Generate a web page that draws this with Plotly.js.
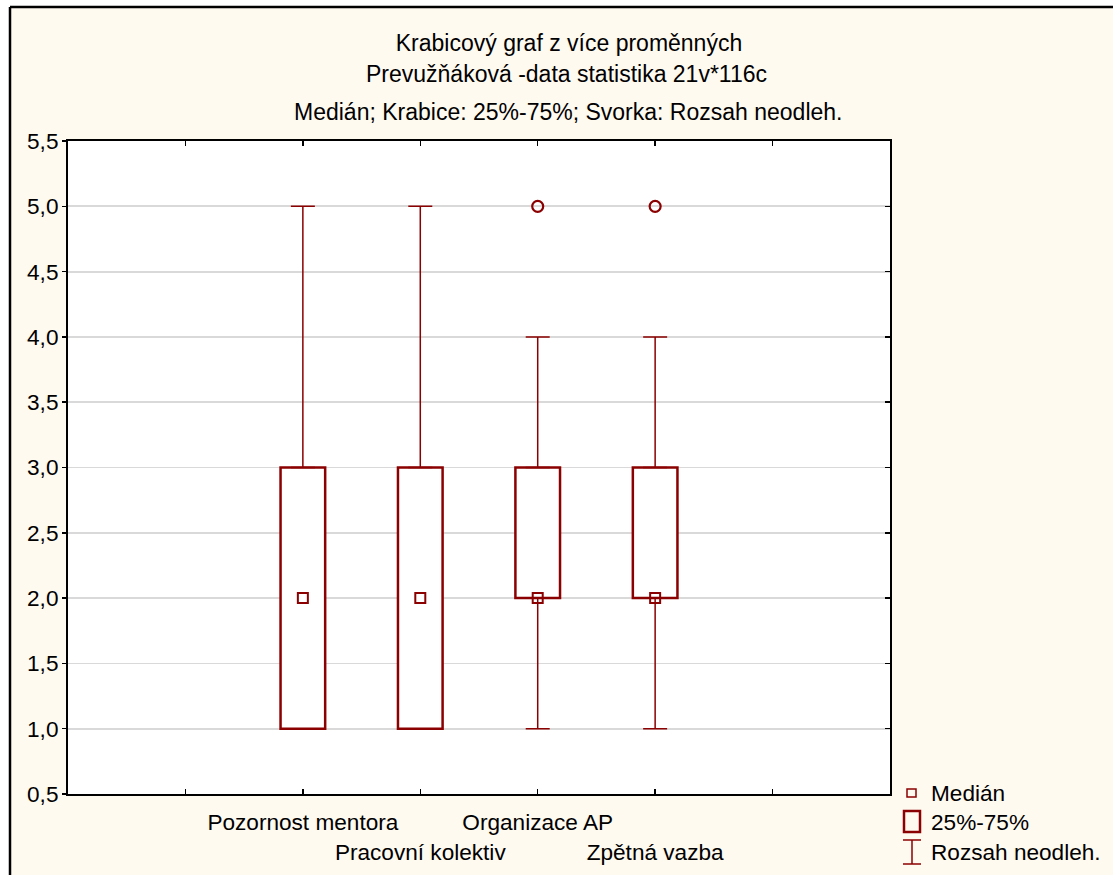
<!DOCTYPE html>
<html>
<head>
<meta charset="utf-8">
<script src="https://cdn.plot.ly/plotly-3.0.1.min.js"></script>
<style>html,body{margin:0;padding:0;background:#fff;}#chart{width:1113px;height:875px;}</style>
</head>
<body>
<div id="chart"></div>
<script>
// ---- data ----
const categories = ["Pozornost mentora", "Pracovní kolektiv", "Organizace AP", "Zpětná vazba"];
const positions = [1, 2, 3, 4];
const minVals = [1, 1, 1, 1];
const q1Vals = [1, 1, 2, 2];
const medianVals = [2, 2, 2, 2];
const q3Vals = [3, 3, 3, 3];
const maxVals = [5, 5, 4, 4];
const outlierPositions = [3, 4];
const outlierVals = [5, 5];
const tickPositions = [0, 1, 2, 3, 4, 5];
const titleLines = [
  "Krabicový graf z více proměnných",
  "Prevužňáková -data statistika 21v*116c",
  "Medián; Krabice: 25%-75%; Svorka: Rozsah neodleh."
];
const legendLabels = ["Medián", "25%-75%", "Rozsah neodleh."];

// ---- styling ----
const RED = "#8b0000";
const FONT = "Arial, 'Liberation Sans', sans-serif";
const FS = 22.6;
const FT = 23;
const W = 1113, H = 875;
const L = 68, R = 890, T = 141, B = 794;
const px = x => (x - L) / (R - L);
const py = y => (B - y) / (B - T);

const tickText = tickPositions.map(p => {
  const i = positions.indexOf(p);
  if (i < 0) return "";
  return (i % 2 === 1 ? "<br>" : "") + categories[i];
});

const traces = [
  {
    type: "bar",
    x: positions,
    base: q1Vals,
    y: q3Vals.map((v, i) => v - q1Vals[i]),
    width: 0.38,
    marker: {color: "#ffffff", line: {color: RED, width: 2.5}},
    showlegend: false,
    hoverinfo: "skip"
  },
  {
    type: "scatter", mode: "markers",
    x: positions, y: q3Vals,
    marker: {size: 1, color: "rgba(0,0,0,0)"},
    error_y: {type: "data", symmetric: false,
      array: maxVals.map((v, i) => v - q3Vals[i]),
      arrayminus: q3Vals.map(() => 0),
      color: RED, thickness: 1.5, width: 12},
    showlegend: false, hoverinfo: "skip"
  },
  {
    type: "scatter", mode: "markers",
    x: positions, y: q1Vals,
    marker: {size: 1, color: "rgba(0,0,0,0)"},
    error_y: {type: "data", symmetric: false,
      array: q1Vals.map(() => 0),
      arrayminus: q1Vals.map((v, i) => v - minVals[i]),
      color: RED, thickness: 1.5, width: 12},
    showlegend: false, hoverinfo: "skip"
  },
  {
    type: "scatter", mode: "markers",
    x: positions, y: medianVals,
    marker: {symbol: "square-open", size: 10, color: RED, line: {color: RED, width: 2}},
    showlegend: false, hoverinfo: "skip"
  },
  {
    type: "scatter", mode: "markers",
    x: outlierPositions, y: outlierVals,
    marker: {symbol: "circle-open", size: 11, color: RED, line: {color: RED, width: 2.2}},
    showlegend: false, hoverinfo: "skip"
  }
];

const shapes = [
  {type: "rect", xref: "paper", yref: "paper", x0: px(-5), x1: px(10), y0: py(H + 5), y1: py(-5),
   fillcolor: "#ffffff", line: {width: 0}, layer: "above"},
  {type: "rect", xref: "paper", yref: "paper", x0: px(-5), x1: px(W + 5), y0: py(7), y1: py(-5),
   fillcolor: "#ffffff", line: {width: 0}, layer: "above"},
  {type: "line", xref: "paper", yref: "paper", x0: px(10), x1: px(10), y0: py(7), y1: py(H + 5),
   line: {color: "#000", width: 2.5}, layer: "above"},
  {type: "line", xref: "paper", yref: "paper", x0: px(10), x1: px(W + 5), y0: py(7), y1: py(7),
   line: {color: "#000", width: 2.5}, layer: "above"},
  {type: "rect", xref: "paper", yref: "paper", x0: px(907), x1: px(916), y0: py(797), y1: py(789),
   line: {color: RED, width: 1.5}, fillcolor: "rgba(0,0,0,0)", layer: "above"},
  {type: "rect", xref: "paper", yref: "paper", x0: px(904), x1: px(920), y0: py(832), y1: py(811),
   line: {color: RED, width: 2.5}, fillcolor: "rgba(0,0,0,0)", layer: "above"},
  {type: "line", xref: "paper", yref: "paper", x0: px(912), x1: px(912), y0: py(840), y1: py(864),
   line: {color: RED, width: 1.5}, layer: "above"},
  {type: "line", xref: "paper", yref: "paper", x0: px(903), x1: px(921), y0: py(840), y1: py(840),
   line: {color: RED, width: 1.5}, layer: "above"},
  {type: "line", xref: "paper", yref: "paper", x0: px(903), x1: px(921), y0: py(864), y1: py(864),
   line: {color: RED, width: 1.5}, layer: "above"}
];

const annotations = [
  {text: titleLines[1], xref: "paper", yref: "paper", x: px(566), y: py(74), xanchor: "center", yanchor: "middle",
   showarrow: false, font: {family: FONT, size: FT, color: "#000"}},
  {text: titleLines[2], xref: "paper", yref: "paper", x: px(568), y: py(112), xanchor: "center", yanchor: "middle",
   showarrow: false, font: {family: FONT, size: FT, color: "#000"}}
];
const legendY = [793, 822, 852];
legendLabels.forEach((t, i) => {
  annotations.push({text: t, xref: "paper", yref: "paper", x: px(929), y: py(legendY[i]),
    xanchor: "left", yanchor: "middle", showarrow: false,
    font: {family: FONT, size: FS, color: "#000"}});
});

const layout = {
  width: W, height: H,
  margin: {l: L, r: W - R, t: T, b: H - B, pad: 0},
  paper_bgcolor: "#fffaf0",
  plot_bgcolor: "#ffffff",
  separators: ",.",
  showlegend: false,
  hovermode: false,
  font: {family: FONT, size: FS, color: "#000"},
  title: {text: titleLines[0], x: px(569), xref: "paper", xanchor: "center",
          y: 1 - 43 / H, yref: "container", yanchor: "middle",
          font: {family: FONT, size: FT, color: "#000"}},
  xaxis: {
    range: [-1, 6], tickmode: "array", tickvals: tickPositions, ticktext: tickText,
    tickangle: 0,
    ticks: "inside", ticklen: 5, tickwidth: 1.5, tickcolor: "#000",
    showline: true, linecolor: "#000", linewidth: 2, mirror: "ticks",
    showgrid: false, zeroline: false,
    tickfont: {family: FONT, size: FS, color: "#000"},
    ticklabelstandoff: 7
  },
  yaxis: {
    range: [0.5, 5.5], dtick: 0.5, tick0: 0.5, tickformat: ".1f",
    ticks: "outside", ticklen: 4, tickwidth: 1.5, tickcolor: "#000",
    showline: true, linecolor: "#000", linewidth: 2, mirror: true,
    showgrid: true, gridcolor: "#d9d9d9", gridwidth: 1.8, zeroline: false,
    tickfont: {family: FONT, size: FS, color: "#000"},
    ticklabelstandoff: -1
  },
  yaxis2: {
    overlaying: "y", side: "right", range: [0.5, 5.5], dtick: 0.5, tick0: 0.5,
    ticks: "inside", ticklen: 5, tickwidth: 1.5, tickcolor: "#000",
    showticklabels: false, showgrid: false, zeroline: false, showline: false
  },
  shapes: shapes,
  annotations: annotations
};

traces.push({type: "scatter", mode: "markers", x: [null], y: [null], yaxis: "y2", showlegend: false, hoverinfo: "skip"});

Plotly.newPlot("chart", traces, layout, {displayModeBar: false, staticPlot: true});
</script>
</body>
</html>
